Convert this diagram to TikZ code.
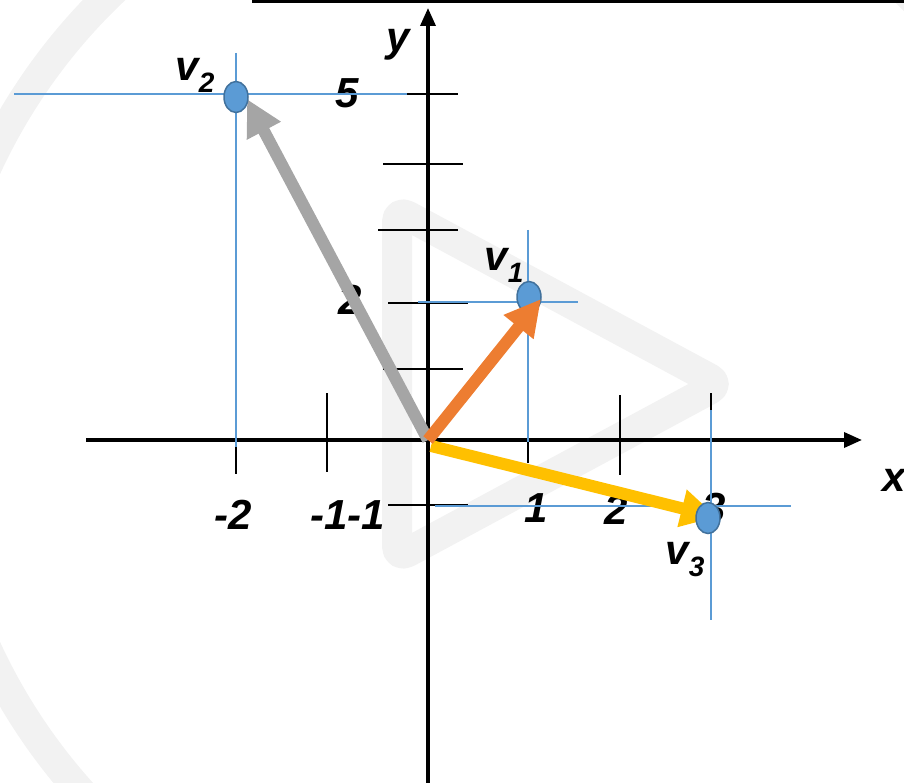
\documentclass[tikz,border=0pt]{standalone}
\usepackage{fontspec}
\setmainfont{Liberation Sans}
\usetikzlibrary{arrows.meta,shapes.geometric}
\definecolor{wm}{HTML}{F2F2F2}
\definecolor{ptblue}{HTML}{5B9BD5}
\definecolor{ptedge}{HTML}{41719C}
\definecolor{vgray}{HTML}{A5A5A5}
\definecolor{vorange}{HTML}{ED7D31}
\definecolor{vyellow}{HTML}{FFC000}
\newcommand\lblfont{\fontsize{42}{50}\selectfont\bfseries\itshape}
\newcommand\vsub[1]{v\raisebox{-12pt}{\fontsize{28}{30}\selectfont #1}}
\begin{document}
\begin{tikzpicture}[x=1pt,y=-1pt,
  lbl/.style={font=\lblfont, inner sep=0pt, anchor=center},
  axis/.style={black, line width=3.5pt, -{Triangle[length=18pt,width=15pt]}},
  tickmark/.style={black, line width=2.6pt},
  guide/.style={ptblue, line width=1.1pt},
  pt/.style={ellipse, fill=ptblue, draw=ptedge, line width=1.5pt, minimum width=24pt, minimum height=31pt, inner sep=0pt},
  vec/.style={line width=12pt, -{Triangle[length=36pt,width=36pt]}},
  wmark/.style={wm, line width=30pt, line join=round}]
\useasboundingbox (0,0) rectangle (904,783);
\clip (0,0) rectangle (904,783);
% watermark
\draw[wmark] (509,408) circle[radius=575pt];
\draw[wmark, rounded corners=12pt] (397,210) -- (720,384) -- (397,558) -- cycle;
% top box
\draw[black, line width=3pt] (253.5,-10) -- (253.5,2) -- (915,2);
% axes
\coordinate (xs) at (86,440);
\coordinate (xe) at (862,440);
\coordinate (ys) at (428,790);
\coordinate (ye) at (428,8);
\draw[axis] (xs) -- (xe);
\draw[axis] (ys) -- (ye);
% ticks
\draw[tickmark] (378,94) -- (458,94);
\draw[tickmark] (383,164) -- (463,164);
\draw[tickmark] (378,230) -- (458,230);
\draw[tickmark] (388,303) -- (468,303);
\draw[tickmark] (383,369) -- (463,369);
\draw[tickmark] (388,505) -- (468,505);
\draw[tickmark] (236,395) -- (236,474);
\draw[tickmark] (327,393) -- (327,472);
\draw[tickmark] (528,395) -- (528,463);
\draw[tickmark] (620,395) -- (620,475);
\draw[tickmark] (711,393) -- (711,470);
% labels
\node[lbl] (ly) at (398,45) {y};
\node[lbl] (lx) at (894,480) {x};
\node[lbl] (l5) at (347,93) {5};
\node[lbl] (l2y) at (350,300) {2};
\node[lbl] (lm2) at (233,515) {-2};
\node[lbl] (lm1) at (348,515) {-1-1};
\node[lbl] (l1) at (536,508) {1};
\node[lbl] (l2) at (616,510) {2};
\node[lbl] (l3) at (714,508) {3};
\node[lbl] (lv1) at (504,265) {\vsub{1}};
\node[lbl] (lv2) at (195,75) {\vsub{2}};
\node[lbl] (lv3) at (685,560) {\vsub{3}};
% guide lines
\draw[guide] (14,94) -- (407,94);
\draw[guide] (236,53) -- (236,447);
\draw[guide] (418,302) -- (578,302);
\draw[guide] (528,230) -- (528,442);
\draw[guide] (435,506) -- (791,506);
\draw[guide] (711,410) -- (711,620);
% points and vectors
\node[pt] (v1) at (529,297) {};
\coordinate (O) at (428,440);
\coordinate (O3) at (431,446);
\coordinate (t1) at (541,299);
\coordinate (t2) at (247,99);
\coordinate (t3) at (717,517);
\draw[vec, vgray] (O) -- (t2);
\draw[vec, vyellow] (O3) -- (t3);
\draw[vec, vorange] (O) -- (t1);
\node[pt] (v2) at (236,97) {};
\node[pt] (v3) at (708,518) {};
\end{tikzpicture}
\end{document}
